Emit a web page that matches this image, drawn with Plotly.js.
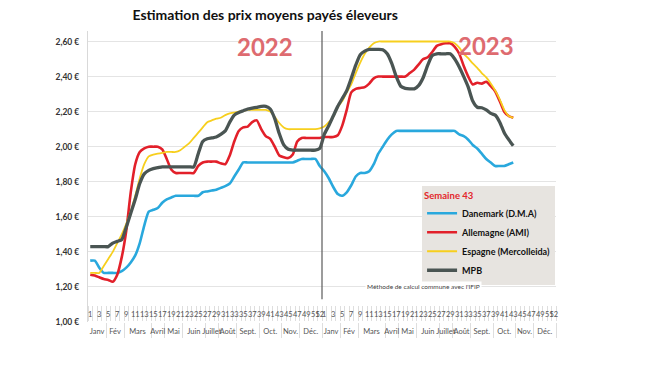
<!DOCTYPE html>
<html><head><meta charset="utf-8">
<script src="https://cdn.plot.ly/plotly-3.0.1.min.js"></script>
<style>body{margin:0;background:#fff}#c{width:650px;height:366px}</style>
</head><body><div id="c"></div>
<script>
// ---- data ----
const titre = 'Estimation des prix moyens payés éleveurs';
const annees = ['2022', '2023'];
const semaines = [1,2,3,4,5,6,7,8,9,10,11,12,13,14,15,16,17,18,19,20,21,22,23,24,25,26,
  27,28,29,30,31,32,33,34,35,36,37,38,39,40,41,42,43,44,45,46,47,48,49,50,51,52];
const mois = ['Janv','Fév','Mars','Avril','Mai','Juin','Juillet','Août','Sept.','Oct.','Nov.','Déc.'];
const semainesParMois = [4,4,6,3,4,5,3,4,5,5,4,5];
const yTicks = [1.0,1.2,1.4,1.6,1.8,2.0,2.2,2.4,2.6];
const yTickText = ['1,00 €','1,20 €','1,40 €','1,60 €','1,80 €','2,00 €','2,20 €','2,40 €','2,60 €'];

const danemark2022 = [1.35,1.35,1.31,1.28,1.28,1.28,1.28,1.29,1.31,1.34,
  1.38,1.45,1.55,1.63,1.64,1.65,1.68,1.70,1.71,1.72,
  1.72,1.72,1.72,1.72,1.72,1.74,1.745,1.75,1.755,1.765,
  1.775,1.79,1.83,1.87,1.91,1.91,1.91,1.91,1.91,1.91,
  1.91,1.91,1.91,1.91,1.91,1.91,1.92,1.93,1.93,1.93,
  1.93,1.89];
const danemark2023 = [1.86,1.82,1.77,1.73,1.72,1.74,1.78,1.83,1.85,1.85,
  1.86,1.90,1.96,2.00,2.04,2.07,2.09,2.09,2.09,2.09,
  2.09,2.09,2.09,2.09,2.09,2.09,2.09,2.09,2.09,2.09,
  2.07,2.06,2.04,2.01,1.99,1.96,1.93,1.91,1.89,1.89,
  1.89,1.90,1.91];

const allemagne2022 = [1.27,1.265,1.255,1.245,1.24,1.23,1.27,1.37,1.52,1.74,
  1.90,1.97,1.99,2.0,2.0,2.0,1.985,1.93,1.87,1.85,
  1.85,1.85,1.85,1.85,1.89,1.91,1.915,1.915,1.915,1.905,
  1.90,1.95,2.03,2.09,2.11,2.115,2.14,2.15,2.10,2.06,
  2.045,2.00,1.95,1.94,1.935,1.955,2.03,2.05,2.05,2.05,
  2.05,2.05];
const allemagne2023 = [2.055,2.055,2.055,2.065,2.12,2.21,2.31,2.33,2.335,2.34,
  2.36,2.39,2.40,2.40,2.40,2.40,2.40,2.40,2.40,2.42,
  2.44,2.47,2.50,2.51,2.54,2.575,2.585,2.59,2.59,2.57,
  2.53,2.46,2.40,2.355,2.365,2.36,2.37,2.345,2.315,2.26,
  2.20,2.175,2.165];

const espagne2022 = [1.28,1.28,1.28,1.32,1.36,1.40,1.45,1.50,1.56,1.63,
  1.72,1.82,1.90,1.945,1.955,1.96,1.965,1.97,1.97,1.97,
  1.98,2.00,2.02,2.05,2.08,2.11,2.14,2.15,2.16,2.165,
  2.18,2.19,2.195,2.20,2.205,2.21,2.21,2.21,2.21,2.21,
  2.20,2.17,2.135,2.11,2.10,2.10,2.10,2.10,2.10,2.10,
  2.10,2.105];
const espagne2023 = [2.115,2.14,2.17,2.225,2.26,2.31,2.355,2.42,2.48,2.53,
  2.565,2.59,2.60,2.60,2.60,2.60,2.60,2.60,2.60,2.60,
  2.60,2.60,2.60,2.60,2.60,2.60,2.60,2.60,2.60,2.59,
  2.565,2.53,2.505,2.475,2.45,2.42,2.395,2.36,2.32,2.27,
  2.21,2.175,2.165];

const mpb2022 = [1.43,1.43,1.43,1.43,1.43,1.45,1.46,1.47,1.54,1.62,
  1.70,1.79,1.845,1.865,1.875,1.88,1.885,1.885,1.885,1.885,
  1.885,1.885,1.885,1.885,1.96,2.03,2.045,2.05,2.055,2.07,
  2.09,2.14,2.18,2.195,2.205,2.215,2.22,2.225,2.23,2.23,
  2.215,2.16,2.075,2.01,1.985,1.98,1.98,1.98,1.98,1.98,
  1.98,1.99];
const mpb2023 = [2.07,2.12,2.175,2.23,2.275,2.32,2.39,2.465,2.525,2.545,
  2.555,2.555,2.555,2.553,2.53,2.475,2.40,2.345,2.333,2.33,
  2.33,2.35,2.395,2.465,2.52,2.53,2.53,2.53,2.53,2.50,
  2.455,2.40,2.34,2.26,2.225,2.222,2.21,2.19,2.18,2.14,
  2.08,2.04,2.005];

// ---- build ----
const cats = [];
annees.forEach((a, ai) => semaines.forEach(s => cats.push({a: a, s: s})));
const pos = cats.map((c, i) => i);

const weekTickVals = pos.filter(i => cats[i].s % 2 === 1 || cats[i].s === 52);
const weekTickText = weekTickVals.map(i => String(cats[i].s));
const weekBounds = pos.map(i => i - 0.5).concat([pos.length - 0.5]);

const monthVals = [], monthText = [], monthBounds = [];
annees.forEach((a, ai) => {
  let cum = ai * semaines.length;
  mois.forEach((m, mi) => {
    const n = semainesParMois[mi];
    monthVals.push(cum + n / 2 - 0.5);
    monthText.push(m);
    monthBounds.push(cum + n - 0.5);
    cum += n;
  });
});

function mk(name, y2022, y2023, color, width) {
  const y = y2022.concat(y2023);
  return {
    type: 'scatter', mode: 'lines', name: name,
    x: pos.slice(0, y.length), y: y,
    line: {color: color, width: width, shape: 'spline', smoothing: 0.6},
    hoverinfo: 'skip'
  };
}

const traces = [
  mk('Danemark (D.M.A)', danemark2022, danemark2023, '#29a8dd', 2.6),
  mk('Allemagne (AMI)', allemagne2022, allemagne2023, '#e2202a', 2.6),
  mk('Espagne (Mercolleida)', espagne2022, espagne2023, '#f7cf1e', 1.8),
  mk('MPB', mpb2022, mpb2023, '#4a5553', 3.3),
  {type: 'scatter', mode: 'lines', x: [0], y: [null], xaxis: 'x2', showlegend: false, hoverinfo: 'skip'}
];

const xr = [-0.5, pos.length - 0.5];
const layout = {
  width: 650, height: 366,
  margin: {l: 88, r: 94, t: 31, b: 44},
  paper_bgcolor: '#ffffff', plot_bgcolor: '#ffffff',
  font: {family: 'Lato, "Open Sans", sans-serif', color: '#333'},
  title: {text: titre, x: 0.408, xanchor: 'center', y: 0.958, yanchor: 'middle',
    font: {size: 14, weight: 700, color: '#111'}},
  showlegend: true,
  xaxis: {type: 'linear', range: xr, anchor: 'free', position: 0.058,
    showgrid: false, zeroline: false, showline: false,
    tickmode: 'array', tickvals: weekTickVals, ticktext: weekTickText, tickangle: 0,
    ticks: '', tickfont: {size: 7.5, color: '#555'}, ticklabelstandoff: 3,
    minor: {tickmode: 'array', tickvals: weekBounds, ticks: 'outside', ticklen: 15,
      tickcolor: '#dedede', tickwidth: 1, showgrid: false}},
  xaxis2: {type: 'linear', range: xr, overlaying: 'x', anchor: 'free', position: 0,
    showgrid: false, zeroline: false, showline: false,
    tickmode: 'array', tickvals: monthVals, ticktext: monthText, tickangle: 0,
    ticks: '', tickfont: {size: 7.5, color: '#555'}, ticklabelstandoff: 3,
    minor: {tickmode: 'array', tickvals: monthBounds, ticks: 'outside', ticklen: 15,
      tickcolor: '#dedede', tickwidth: 1, showgrid: false}},
  yaxis: {range: [1.0, 2.66], tickmode: 'array', tickvals: yTicks, ticktext: yTickText,
    showgrid: true, gridcolor: '#e4e4e4', gridwidth: 1, zeroline: false,
    showline: true, linecolor: '#d9d9d9', ticks: '',
    tickfont: {size: 8.5, weight: 700, color: '#333'}, ticklabelstandoff: 6},
  legend: {x: 0.998, xanchor: 'right', y: 0.466, yanchor: 'top',
    bgcolor: '#e7e4e0', borderwidth: 0, itemwidth: 30, tracegroupgap: 0,
    font: {size: 9, weight: 700, color: '#111'},
    title: {text: 'Semaine 43', font: {size: 9.5, weight: 700, color: '#e3262b'}}},
  shapes: [{type: 'line', xref: 'x', yref: 'y', x0: 51.5, x1: 51.5, y0: 1.13, y1: 2.66,
    line: {color: '#5a5a5a', width: 1.2}}],
  annotations: [
    {text: annees[0], xref: 'paper', yref: 'y', x: 0.378, y: 2.57, showarrow: false,
      font: {size: 24, weight: 700, color: '#de6b70'}},
    {text: annees[1], xref: 'paper', yref: 'y', x: 0.915, y: 2.575, showarrow: false,
      font: {size: 24, weight: 700, color: '#de6b70'}},
    {text: 'Méthode de calcul commune avec l\'IFIP', xref: 'paper', yref: 'y', x: 0.842, y: 1.2,
      showarrow: false, bgcolor: '#ffffff', font: {size: 6.5, color: '#444'}}
  ]
};

Plotly.newPlot('c', traces, layout, {displayModeBar: false, staticPlot: true});
</script></body></html>
